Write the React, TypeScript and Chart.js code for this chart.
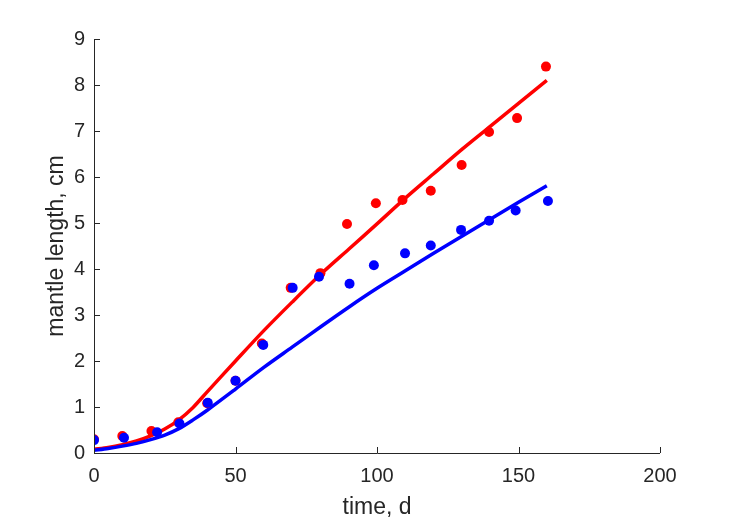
import React, { useEffect, useRef } from 'react';
import { Chart, registerables } from 'chart.js';

Chart.register(...registerables);

// Measured data (time in days, mantle length in cm)
const redPointT = [0, 10, 20.3, 29.8, 40, 50, 59.3, 69.5, 80, 89.4, 99.6, 109, 119, 129.9, 139.6, 149.5, 159.7];
const redPointL = [0.3, 0.37, 0.48, 0.67, 1.08, 1.57, 2.38, 3.59, 3.91, 4.98, 5.43, 5.5, 5.7, 6.26, 6.98, 7.28, 8.4];
const bluePointT = [0, 10.6, 22.3, 30.2, 40.2, 50, 59.8, 70.2, 79.5, 90.3, 98.9, 109.9, 119, 129.7, 139.6, 149, 160.4];
const bluePointL = [0.28, 0.33, 0.45, 0.64, 1.09, 1.57, 2.35, 3.59, 3.83, 3.68, 4.08, 4.34, 4.51, 4.85, 5.05, 5.27, 5.48];

// Model curves
const fitT = [0, 5, 10, 15, 20, 25, 30, 35, 40, 50, 60, 70, 80, 90, 100, 110, 120, 130, 140, 150, 160];
const redFit = [0.08, 0.12, 0.18, 0.26, 0.37, 0.52, 0.72, 0.99, 1.33, 2.0, 2.66, 3.28, 3.88, 4.43, 4.98, 5.54, 6.07, 6.6, 7.1, 7.6, 8.1];
const blueFit = [0.06, 0.1, 0.15, 0.21, 0.29, 0.39, 0.53, 0.72, 0.93, 1.39, 1.86, 2.3, 2.74, 3.17, 3.58, 3.96, 4.34, 4.71, 5.08, 5.45, 5.81];

// Axes
const xTicks = [0, 50, 100, 150, 200];
const yTicks = [0, 1, 2, 3, 4, 5, 6, 7, 8, 9];
const xTitle = 'time, d';
const yTitle = 'mantle length, cm';

const AXIS_COLOR = '#262626';
const FONT = '"Liberation Sans", Arial, Helvetica, sans-serif';

const pts = (xs: number[], ys: number[]) => xs.map((x, i) => ({ x, y: ys[i] }));

const inwardTicks = {
  id: 'inwardTicks',
  afterDraw(chart: any) {
    const { ctx, chartArea, scales } = chart;
    const len = 6;
    ctx.save();
    ctx.strokeStyle = AXIS_COLOR;
    ctx.lineWidth = 1;
    ctx.beginPath();
    ctx.moveTo(chartArea.left + 0.5, chartArea.top);
    ctx.lineTo(chartArea.left + 0.5, chartArea.bottom + 0.5);
    ctx.lineTo(chartArea.right, chartArea.bottom + 0.5);
    xTicks.forEach((v) => {
      const px = Math.round(scales.x.getPixelForValue(v)) + 0.5;
      ctx.moveTo(px, chartArea.bottom);
      ctx.lineTo(px, chartArea.bottom - len);
    });
    yTicks.forEach((v) => {
      const py = Math.round(scales.y.getPixelForValue(v)) + 0.5;
      ctx.moveTo(chartArea.left, py);
      ctx.lineTo(chartArea.left + len, py);
    });
    ctx.stroke();
    ctx.restore();
  },
};

export default function App() {
  const ref = useRef<HTMLCanvasElement | null>(null);

  useEffect(() => {
    if (!ref.current) return;
    const chart = new Chart(ref.current, {
      type: 'scatter',
      data: {
        datasets: [
          {
            label: 'blue data',
            data: pts(bluePointT, bluePointL),
            backgroundColor: '#0000ff',
            borderColor: '#0000ff',
            pointRadius: 5,
            pointBorderWidth: 0,
            showLine: false,
            order: 0,
          },
          {
            label: 'red data',
            data: pts(redPointT, redPointL),
            backgroundColor: '#ff0000',
            borderColor: '#ff0000',
            pointRadius: 5,
            pointBorderWidth: 0,
            showLine: false,
            order: 1,
          },
          {
            label: 'blue model',
            data: pts(fitT, blueFit),
            borderColor: '#0000ff',
            backgroundColor: '#0000ff',
            borderWidth: 3.5,
            pointRadius: 0,
            showLine: true,
            tension: 0.3,
            order: 2,
          },
          {
            label: 'red model',
            data: pts(fitT, redFit),
            borderColor: '#ff0000',
            backgroundColor: '#ff0000',
            borderWidth: 3.5,
            pointRadius: 0,
            showLine: true,
            tension: 0.3,
            order: 3,
          },
        ],
      },
      options: {
        responsive: false,
        animation: false,
        devicePixelRatio: 1,
        layout: { padding: { left: 0, top: 39, right: 69, bottom: 0 } },
        plugins: { legend: { display: false }, tooltip: { enabled: false } },
        scales: {
          x: {
            type: 'linear',
            min: 0,
            max: 200,
            grid: { display: false, drawTicks: false },
            border: { display: false },
            afterBuildTicks: (s: any) => {
              s.ticks = xTicks.map((v) => ({ value: v }));
            },
            afterFit: (s: any) => {
              s.height = 68;
            },
            ticks: {
              color: AXIS_COLOR,
              font: { family: FONT, size: 20 },
              padding: 11,
              maxRotation: 0,
            },
            title: {
              display: true,
              text: xTitle,
              color: AXIS_COLOR,
              font: { family: FONT, size: 23 },
              padding: { top: 0, bottom: 0 },
            },
          },
          y: {
            type: 'linear',
            min: 0,
            max: 9,
            grid: { display: false, drawTicks: false },
            border: { display: false },
            afterBuildTicks: (s: any) => {
              s.ticks = yTicks.map((v) => ({ value: v }));
            },
            afterFit: (s: any) => {
              s.width = 94;
            },
            ticks: {
              color: AXIS_COLOR,
              font: { family: FONT, size: 20 },
              padding: 9,
            },
            title: {
              display: true,
              text: yTitle,
              color: AXIS_COLOR,
              font: { family: FONT, size: 23 },
              padding: { top: 43, bottom: 0 },
            },
          },
        },
      },
      plugins: [inwardTicks],
    });
    return () => chart.destroy();
  }, []);

  return (
    <div style={{ position: 'absolute', left: 0, top: 0, width: 729, height: 521, background: '#ffffff' }}>
      <canvas ref={ref} width={729} height={521} style={{ width: 729, height: 521, display: 'block' }} />
    </div>
  );
}
